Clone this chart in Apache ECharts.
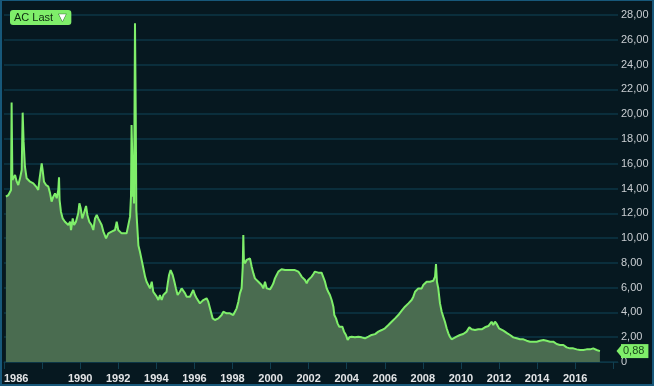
<!DOCTYPE html>
<html>
<head>
<meta charset="utf-8">
<script src="https://cdn.jsdelivr.net/npm/echarts@6/dist/echarts.min.js"></script>
<style>
html,body{margin:0;padding:0;background:#061820;}
#wrap{position:relative;width:654px;height:386px;}
#chart{width:654px;height:386px;}
#frame{position:absolute;left:0;top:0;width:654px;height:386px;box-sizing:border-box;border:2px solid #17587a;border-top-width:1px;pointer-events:none;}
</style>
</head>
<body>
<div id="wrap"><div id="chart"></div><div id="frame"></div></div>
<script>
const seriesName = 'AC Last';
const years = [
1986.10,1986.23,1986.37,1986.40,1986.44,1986.58,1986.67,1986.75,1986.84,1986.93,1986.98,1987.03,1987.10,1987.19,1987.28,1987.37,1987.45,1987.54,1987.63,1987.72,1987.80,1987.86,1987.93,1987.98,1988.03,1988.10,1988.21,1988.33,1988.42,1988.50,1988.59,1988.68,1988.77,1988.85,1988.89,1988.92,1988.99,1989.08,1989.20,1989.29,1989.38,1989.47,1989.52,1989.61,1989.68,1989.78,1989.90,1989.96,1990.03,1990.11,1990.20,1990.31,1990.38,1990.48,1990.60,1990.69,1990.78,1990.87,1990.95,1991.04,1991.13,1991.22,1991.36,1991.48,1991.57,1991.65,1991.74,1991.83,1991.92,1992.00,1992.09,1992.18,1992.27,1992.44,1992.53,
1992.62,1992.67,1992.70,1992.74,1992.77,1992.80,1992.83,1992.88,1992.92,1992.95,1992.99,1993.06,1993.14,1993.23,1993.32,1993.41,1993.49,1993.58,1993.67,1993.76,1993.84,1993.93,1994.02,1994.11,1994.19,1994.28,1994.37,1994.46,1994.54,1994.60,1994.67,1994.75,1994.81,1994.86,1994.95,1995.03,1995.12,1995.24,1995.33,1995.42,1995.51,1995.59,1995.68,1995.77,1995.86,1995.94,1996.03,1996.12,1996.21,1996.29,1996.38,1996.47,1996.56,1996.64,1996.73,1996.82,1996.91,1996.96,1997.08,1997.26,1997.34,1997.43,1997.52,1997.61,1997.69,1997.78,1997.87,1997.96,1998.04,1998.13,1998.22,1998.31,1998.39,1998.48,1998.54,1998.57,1998.60,1998.66,1998.74,1998.83,1998.92,
1999.01,1999.10,1999.18,1999.27,1999.36,1999.45,1999.53,1999.62,1999.71,1999.80,1999.88,1999.97,2000.06,2000.15,2000.23,2000.32,2000.41,2000.50,2000.58,2000.67,2000.76,2000.85,2000.93,2001.02,2001.11,2001.20,2001.28,2001.37,2001.46,2001.55,2001.63,2001.72,2001.81,2001.90,2001.98,2002.07,2002.16,2002.25,2002.33,2002.42,2002.51,2002.60,2002.68,2002.77,2002.86,2002.95,2003.03,2003.12,2003.21,2003.30,2003.35,2003.44,2003.52,2003.61,2003.68,2003.77,2003.86,2003.96,2004.05,2004.14,2004.26,2004.43,2004.61,2004.78,2004.96,2005.14,2005.31,
2005.49,2005.66,2005.84,2006.01,2006.19,2006.36,2006.54,2006.71,2006.89,2007.06,2007.24,2007.41,2007.50,2007.59,2007.67,2007.76,2007.85,2007.94,2008.02,2008.11,2008.20,2008.29,2008.37,2008.46,2008.55,2008.64,2008.69,2008.74,2008.81,2008.90,2008.99,2009.07,2009.16,2009.25,2009.34,2009.42,2009.51,2009.60,2009.77,2009.95,2010.12,2010.30,2010.44,2010.56,2010.74,2010.91,2011.09,2011.26,2011.44,2011.53,2011.61,2011.70,2011.79,2011.88,2012.00,
2012.05,2012.23,2012.31,2012.44,2012.58,2012.75,2012.93,2013.10,2013.28,2013.45,2013.63,2013.80,2013.98,2014.15,2014.33,2014.41,2014.50,2014.68,2014.85,2015.03,2015.11,2015.20,2015.29,2015.38,2015.55,2015.73,2015.90,2016.08,2016.25,2016.43,2016.60,2016.78,2016.95,2017.13,2017.30
];
const values = [
13.34,13.47,13.88,20.93,14.69,15.09,14.55,14.28,14.82,15.49,20.12,17.78,15.76,14.82,14.95,14.55,14.69,14.42,14.28,14.09,13.88,14.69,15.49,16.03,15.49,14.55,14.28,14.15,13.61,12.94,13.34,13.61,13.21,13.88,14.90,13.07,12.13,11.59,11.32,11.46,11.05,11.32,10.65,11.59,11.05,11.32,12.00,12.80,12.40,11.59,12.00,12.59,11.86,11.32,11.05,10.65,11.59,11.86,11.59,11.73,11.05,10.52,9.98,10.38,10.25,10.52,10.38,10.65,11.32,10.65,10.52,10.38,10.52,10.38,10.52,
11.73,13.34,19.12,16.57,13.34,16.30,12.80,27.33,20.06,12.26,11.19,9.40,8.90,8.23,7.56,6.89,6.48,6.62,5.94,6.48,5.67,5.81,5.27,5.00,5.41,5.00,5.41,5.27,5.67,6.35,7.02,7.42,7.56,7.02,6.48,5.94,5.41,5.67,5.94,5.81,5.54,5.27,5.41,5.27,5.41,5.81,5.41,5.14,5.00,4.73,4.87,5.00,5.00,5.14,4.87,4.33,4.20,3.52,3.39,3.52,3.39,3.79,4.06,4.20,3.93,4.06,3.93,3.93,3.79,4.06,4.33,4.87,5.54,5.94,7.69,10.25,8.23,7.96,8.23,8.10,8.36,
7.69,7.15,6.75,6.62,6.48,6.35,6.21,5.94,6.48,5.94,5.86,5.86,6.08,6.35,6.75,7.02,7.29,7.42,7.48,7.56,7.42,7.56,7.42,7.48,7.42,7.53,7.42,7.37,7.29,7.10,6.89,6.75,6.62,6.35,6.62,6.75,6.89,7.10,7.29,7.29,7.21,7.15,7.21,7.15,6.48,5.94,5.67,5.41,5.00,4.46,3.79,3.52,3.12,2.85,2.99,2.85,2.45,2.18,1.78,1.99,2.04,1.99,2.04,1.99,1.91,2.04,2.18,
2.25,2.45,2.58,2.72,2.99,3.25,3.52,3.79,4.14,4.46,4.73,5.00,5.27,5.67,5.81,5.94,6.08,5.94,6.21,6.35,6.48,6.62,6.48,6.62,6.56,6.89,7.91,6.48,5.94,4.73,4.06,3.66,3.25,2.72,2.31,2.04,1.83,1.91,2.04,2.18,2.26,2.45,2.80,2.64,2.58,2.64,2.64,2.80,2.90,2.99,3.25,2.99,3.25,3.07,2.72,
2.64,2.53,2.37,2.31,2.18,1.99,1.91,1.83,1.83,1.72,1.64,1.64,1.64,1.72,1.78,1.83,1.72,1.64,1.64,1.45,1.29,1.37,1.51,1.37,1.18,1.10,1.10,1.02,0.97,0.97,1.02,1.02,1.10,0.97,0.88
];
const xTickLabels = ['1986','1990','1992','1994','1996','1998','2000','2002','2004','2006','2008','2010','2012','2014','2016'];
const yTickLabels = ['0','2,00','4,00','6,00','8,00','10,00','12,00','14,00','16,00','18,00','20,00','22,00','24,00','26,00','28,00'];

const data = years.map((y, i) => [y, values[i]]);
const lastVal = values[values.length - 1];
const fmt = v => v.toFixed(2).replace('.', ',');
const GREEN = '#7fee6a';
const XMAX = 2018.25;

const chart = echarts.init(document.getElementById('chart'));
chart.setOption({
  backgroundColor: '#061820',
  animation: false,
  legend: {
    left: 5, top: 10, padding: 0,
    icon: 'none', itemWidth: 0, itemHeight: 0,
    data: [seriesName],
    formatter: n => '{t|' + n + '} {a|▼}',
    textStyle: {
      backgroundColor: GREEN, borderRadius: 3, padding: [1, 3, 1, 4],
      rich: {
        t: { color: '#0d2a10', fontSize: 11, fontFamily: 'Liberation Sans, Arial, sans-serif', lineHeight: 13 },
        a: { color: '#ffffff', fontSize: 12, textBorderColor: '#2c6a30', textBorderWidth: 1, lineHeight: 13 }
      }
    }
  },
  grid: { left: 4, right: 36, top: 15, bottom: 24 },
  xAxis: {
    type: 'value', min: 1986, max: XMAX, interval: 2,
    splitLine: { show: false },
    axisLine: { show: true, lineStyle: { color: '#0c3646', width: 1 } },
    axisTick: { show: true, length: 7, lineStyle: { color: '#123f50' } },
    axisLabel: {
      color: '#e2e4e6', fontSize: 11, fontWeight: 'bold', margin: 11,
      fontFamily: 'Liberation Sans, Arial, sans-serif',
      showMaxLabel: false, alignMinLabel: 'left',
      formatter: v => xTickLabels.indexOf(String(v)) >= 0 ? String(v) : ''
    }
  },
  yAxis: {
    type: 'value', position: 'right', min: 0, max: 28, interval: 2,
    axisLine: { show: false }, axisTick: { show: false },
    splitLine: { show: true, lineStyle: { color: '#0c3646', width: 1.5 } },
    axisLabel: {
      color: '#c9ced2', fontSize: 11, margin: 3,
      fontFamily: 'Liberation Sans, Arial, sans-serif',
      formatter: v => yTickLabels[Math.round(v / 2)]
    }
  },
  series: [{
    name: seriesName, type: 'line', data: data, symbol: 'none',
    lineStyle: { color: GREEN, width: 2 },
    itemStyle: { color: GREEN },
    areaStyle: { color: '#4a6c50', opacity: 1 },
    markLine: {
      silent: true, symbol: 'none',
      lineStyle: { color: 'rgba(0,0,0,0)', width: 0 },
      label: {
        show: true, position: 'end', distance: 3,
        formatter: () => fmt(lastVal),
        backgroundColor: GREEN, color: '#1b4a1d', fontSize: 11,
        fontFamily: 'Liberation Sans, Arial, sans-serif',
        padding: [1, 4, 1, 2], lineHeight: 12
      },
      data: [{ yAxis: lastVal }]
    },
    markPoint: {
      silent: true,
      symbol: 'triangle', symbolRotate: 90, symbolSize: [12, 5], symbolOffset: [1, 0],
      itemStyle: { color: GREEN },
      label: { show: false },
      data: [{ coord: [XMAX, lastVal] }]
    }
  }]
});
</script>
</body>
</html>
